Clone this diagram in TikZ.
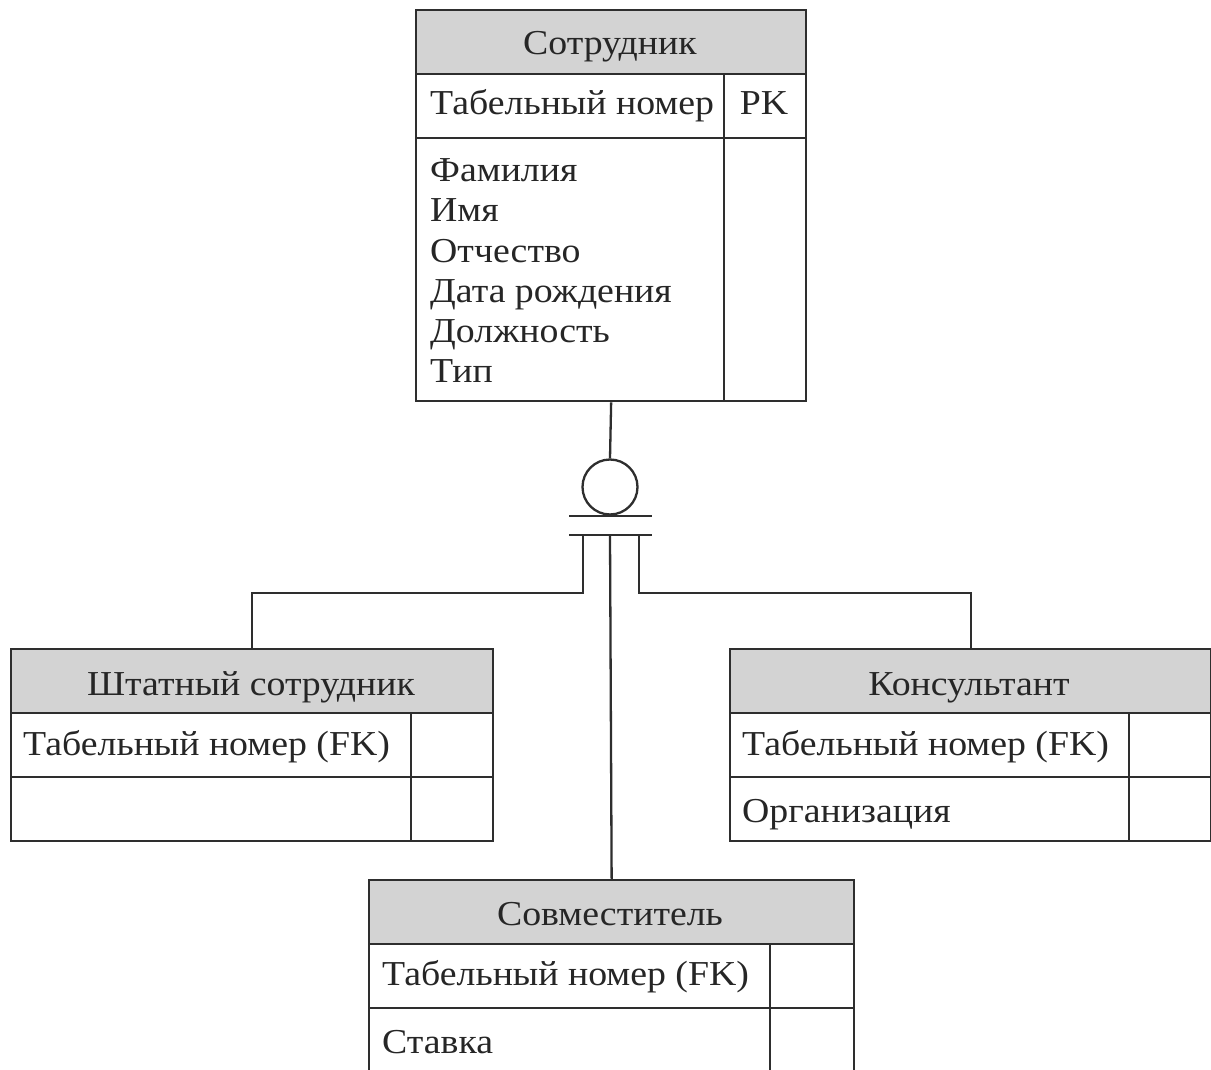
\documentclass[tikz,border=0pt]{standalone}
\usepackage{fontspec}
\setmainfont[FakeStretch=1.08]{Liberation Serif}
\definecolor{hdrgray}{HTML}{D3D3D3}
\definecolor{inkgray}{HTML}{2E2E2E}
\begin{document}
\begin{tikzpicture}[x=1pt,y=-1pt,
  ln/.style={line width=2.3pt, draw=inkgray},
  frame/.style={ln, rectangle, inner sep=0pt, anchor=north west},
  hdrbox/.style={frame, fill=hdrgray},
  cell/.style={frame},
  ttl/.style={anchor=base, inner sep=0pt, font=\fontsize{35}{40}\selectfont, text=black!85},
  lbl/.style={anchor=base west, inner sep=0pt, font=\fontsize{35}{40}\selectfont, text=black!85, align=left},
]
\clip (0,0) rectangle (1211,1070);
\fill[white] (0,0) rectangle (1211,1070);

% ---------- Сотрудник ----------
\node[hdrbox, minimum width=390, minimum height=64] (emp-h) at (415,9) {};
\node[cell, minimum width=308, minimum height=64] (emp-k) at (415,73) {};
\node[cell, minimum width=82, minimum height=64] (emp-kc) at (723,73) {};
\node[cell, minimum width=308, minimum height=263] (emp-a) at (415,137) {};
\node[cell, minimum width=82, minimum height=263] (emp-ac) at (723,137) {};
\node[frame, minimum width=390, minimum height=391] (emp) at (415,9) {};
\node[ttl] (emp-t) at (610,55) {Сотрудник};
\node[lbl] (emp-kl) at (430,115) {Табельный номер};
\node[ttl] (emp-pk) at (764,115) {PK};
\node[lbl] (emp-a1) at (430,182) {Фамилия};
\node[lbl] (emp-a2) at (430,222) {Имя};
\node[lbl] (emp-a3) at (430,262) {Отчество};
\node[lbl] (emp-a4) at (430,302) {Дата рождения};
\node[lbl] (emp-a5) at (430,342) {Должность};
\node[lbl] (emp-a6) at (430,382) {Тип};

% ---------- Штатный сотрудник ----------
\node[hdrbox, minimum width=482, minimum height=64] (staff-h) at (10,648) {};
\node[cell, minimum width=400, minimum height=64] (staff-k) at (10,712) {};
\node[cell, minimum width=82, minimum height=64] (staff-kc) at (410,712) {};
\node[cell, minimum width=400, minimum height=64] (staff-a) at (10,776) {};
\node[cell, minimum width=82, minimum height=64] (staff-ac) at (410,776) {};
\node[frame, minimum width=482, minimum height=192] (staff) at (10,648) {};
\node[ttl] (staff-t) at (251,695) {Штатный сотрудник};
\node[lbl] (staff-kl) at (23,755) {Табельный номер (FK)};

% ---------- Консультант ----------
\node[hdrbox, minimum width=481, minimum height=64] (cons-h) at (729,648) {};
\node[cell, minimum width=399, minimum height=64] (cons-k) at (729,712) {};
\node[cell, minimum width=82, minimum height=64] (cons-kc) at (1128,712) {};
\node[cell, minimum width=399, minimum height=64] (cons-a) at (729,776) {};
\node[cell, minimum width=82, minimum height=64] (cons-ac) at (1128,776) {};
\node[frame, minimum width=481, minimum height=192] (cons) at (729,648) {};
\node[ttl] (cons-t) at (969,695) {Консультант};
\node[lbl] (cons-kl) at (742,755) {Табельный номер (FK)};
\node[lbl] (cons-a1) at (742,822) {Организация};

% ---------- Совместитель ----------
\node[hdrbox, minimum width=485, minimum height=64] (part-h) at (368,879) {};
\node[cell, minimum width=401, minimum height=64] (part-k) at (368,943) {};
\node[cell, minimum width=84, minimum height=64] (part-kc) at (769,943) {};
\node[cell, minimum width=401, minimum height=90] (part-a) at (368,1007) {};
\node[cell, minimum width=84, minimum height=90] (part-ac) at (769,1007) {};
\node[frame, minimum width=485, minimum height=218] (part) at (368,879) {};
\node[ttl] (part-t) at (610,925) {Совместитель};
\node[lbl] (part-kl) at (382,985) {Табельный номер (FK)};
\node[lbl] (part-a1) at (382,1053) {Ставка};

% ---------- категоризация ----------
\node[ln, circle, minimum size=55, inner sep=0pt] (cat) at (610,487) {};
\coordinate (gate) at ([yshift=-19pt]cat.south);
\draw[ln] (emp.south) -- (cat.north);
\draw[ln] ([xshift=-41pt]cat.south) -- ([xshift=42pt]cat.south);
\draw[ln] ([xshift=-41pt]gate) -- ([xshift=42pt]gate);
\draw[ln] ([xshift=-27pt]gate) -- ++(0,58) -| (staff.north);
\draw[ln] ([xshift=29pt]gate) -- ++(0,58) -| (cons.north);
\draw[ln] (gate) -- (part.north);
\end{tikzpicture}
\end{document}
